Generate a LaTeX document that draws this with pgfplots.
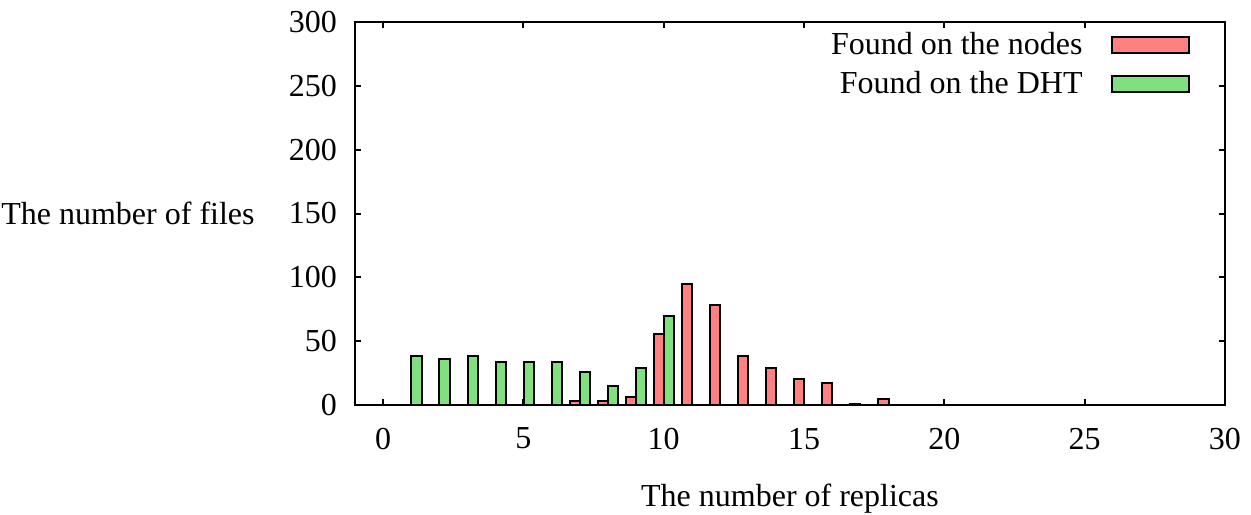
\documentclass[border=0pt]{standalone}
\usepackage{fontspec}
\setmainfont{Liberation Serif}
\usepackage{pgfplots}
\pgfplotsset{compat=1.18}
\definecolor{barred}{RGB}{255,128,128}
\definecolor{bargreen}{RGB}{128,224,128}
\begin{document}
\begin{tikzpicture}[font=\fontsize{16bp}{19bp}\selectfont]
\begin{axis}[
  name=ax,
  scale only axis, width=435bp, height=191.5bp,
  xmin=-1, xmax=30, ymin=0, ymax=300,
  xtick={0,5,...,30}, ytick={0,50,...,300},
  tick align=inside, major tick length=3bp,
  axis line style={line width=1bp},
  every tick/.style={black, line width=1bp},
  /pgf/number format/assume math mode=true,
  xticklabel style={yshift=-8bp},
  yticklabel style={xshift=-5.5bp},
  xlabel={The number of replicas},
  xlabel style={at={(rel axis cs:0.5,0)}, anchor=center, yshift=-47bp},
  ylabel={The number of files},
  ylabel style={rotate=-90, at={(rel axis cs:0,0.5)}, anchor=east, inner sep=0pt, xshift=-50bp},
  legend style={at={(rel axis cs:1,1)}, anchor=north east, xshift=-17.5bp, yshift=-5.5bp,
    draw=none, fill=none, inner sep=0pt, column sep=14bp, row sep=9bp,
    nodes={inner sep=0pt, text height=10.6bp, text depth=0bp}},
  legend cell align=right,
  legend plot pos=right,
  legend image code/.code={\draw[#1, line width=1bp] (0bp,-4.5bp) rectangle (38.5bp,3.5bp);},
]
\addplot[ybar, bar width=0.36, bar shift=-0.17, draw=black, line width=1bp, fill=barred]
  coordinates {(7,3) (8,3) (9,6) (10,56) (11,95) (12,78) (13,38) (14,29) (15,20) (16,17) (17,1) (18,5)};
\addplot[ybar, bar width=0.36, bar shift=0.19, draw=black, line width=1bp, fill=bargreen]
  coordinates {(1,38) (2,36) (3,38) (4,34) (5,34) (6,34) (7,26) (8,15) (9,29) (10,70)};
\legend{Found on the nodes, Found on the DHT}
\end{axis}
\pgfresetboundingbox
\path[use as bounding box] ([shift={(-177.5bp,-55bp)}]ax.south west) rectangle ([shift={(13bp,11bp)}]ax.north east);
\end{tikzpicture}
\end{document}
